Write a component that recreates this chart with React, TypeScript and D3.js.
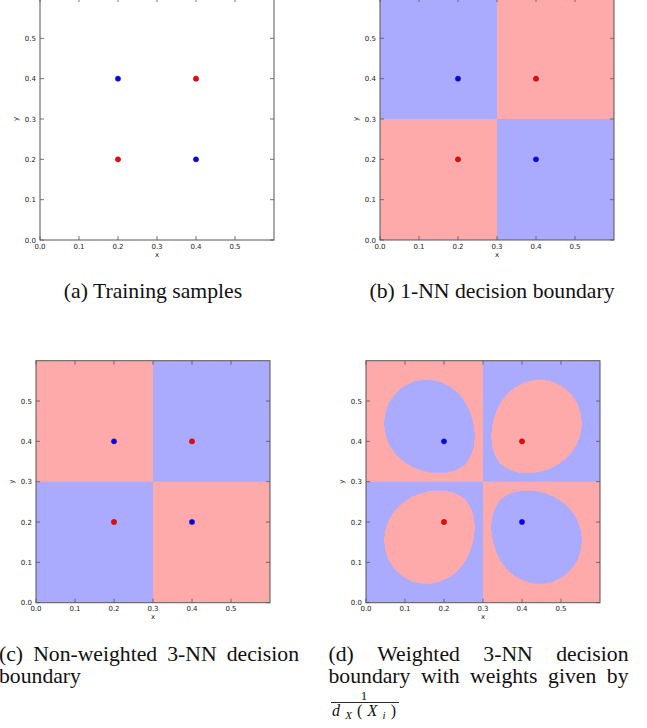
import React, { useEffect, useRef } from 'react';
import * as d3 from 'd3';

// training samples (class 1 = blue, class 0 = red)
const sampleX = [0.2, 0.4, 0.2, 0.4];
const sampleY = [0.4, 0.4, 0.2, 0.2];
const sampleClass = [1, 0, 0, 1];

const tickValues = [0, 0.1, 0.2, 0.3, 0.4, 0.5];
const domainMax = 0.6;

const captionA = '(a) Training samples';
const captionB = '(b) 1-NN decision boundary';
const captionC = [['(c)', 'Non-weighted', '3-NN', 'decision'], ['boundary']];
const captionD = [['(d)', 'Weighted', '3-NN', 'decision'], ['boundary', 'with', 'weights', 'given', 'by']];

const RED_BG = '#ffaaaa';
const BLUE_BG = '#aaaaff';
const RED_PT = '#ff0000';
const BLUE_PT = '#0000ff';

// k = 0 means no boundary (training samples only)
const panels = [
  { id: 'a', left: 40, top: -2, k: 0, weighted: false },
  { id: 'b', left: 380, top: -2, k: 1, weighted: false },
  { id: 'c', left: 36, top: 360.7, k: 3, weighted: false },
  { id: 'd', left: 366, top: 360.7, k: 3, weighted: true },
];

const classify = (px: number, py: number, k: number, weighted: boolean) => {
  const nb = sampleX
    .map((sx, i) => ({ d: Math.hypot(px - sx, py - sampleY[i]), c: sampleClass[i] }))
    .sort((a, b) => a.d - b.d)
    .slice(0, k);
  let blue = 0;
  let red = 0;
  nb.forEach(n => {
    const w = weighted ? 1 / Math.max(n.d, 1e-9) : 1;
    if (n.c === 1) blue += w;
    else red += w;
  });
  return blue > red ? 1 : 0;
};

export default function App() {
  const svgRef = useRef<SVGSVGElement>(null);

  useEffect(() => {
    const svg = d3.select(svgRef.current);
    svg.selectAll('*').remove();

    const W = 234;
    const H = 242;
    const tickFmt = d3.format('.1f');

    panels.forEach(p => {
      const x = d3.scaleLinear().domain([0, domainMax]).range([p.left, p.left + W]);
      const y = d3.scaleLinear().domain([0, domainMax]).range([p.top + H, p.top]);
      const g = svg.append('g');

      g.append('clipPath').attr('id', 'clip-' + p.id)
        .append('rect').attr('x', p.left).attr('y', p.top).attr('width', W).attr('height', H);

      if (p.k > 0) {
        const field = g.append('g').attr('clip-path', `url(#clip-${p.id})`);
        field.append('rect')
          .attr('x', p.left).attr('y', p.top).attr('width', W).attr('height', H)
          .attr('fill', RED_BG);

        // classify each pixel centre of the plot area
        const values: number[] = new Array(W * H);
        for (let j = 0; j < H; j++) {
          for (let i = 0; i < W; i++) {
            values[j * W + i] = classify(x.invert(p.left + i + 0.5), y.invert(p.top + j + 0.5), p.k, p.weighted);
          }
        }
        const blueArea = d3.contours().size([W, H]).thresholds([0.5])(values)[0];
        field.append('path')
          .attr('transform', `translate(${p.left},${p.top})`)
          .attr('d', d3.geoPath()(blueArea as any))
          .attr('fill', BLUE_BG);
      }

      // samples
      g.selectAll('circle.pt')
        .data(sampleX.map((sx, i) => ({ x: sx, y: sampleY[i], c: sampleClass[i] })))
        .enter()
        .append('circle')
        .attr('cx', d => x(d.x))
        .attr('cy', d => y(d.y))
        .attr('r', 2.7)
        .attr('fill', d => (d.c === 1 ? BLUE_PT : RED_PT))
        .attr('stroke', '#333')
        .attr('stroke-width', 0.4);

      // frame
      g.append('rect')
        .attr('x', p.left).attr('y', p.top).attr('width', W).attr('height', H)
        .attr('fill', 'none').attr('stroke', '#555').attr('stroke-width', 1);

      // inward ticks on all four sides
      const tl = 4;
      const ticks = g.append('g').attr('stroke', '#555').attr('stroke-width', 0.8);
      tickValues.forEach(t => {
        ticks.append('line').attr('x1', x(t)).attr('x2', x(t)).attr('y1', p.top + H).attr('y2', p.top + H - tl);
        ticks.append('line').attr('x1', x(t)).attr('x2', x(t)).attr('y1', p.top).attr('y2', p.top + tl);
        ticks.append('line').attr('y1', y(t)).attr('y2', y(t)).attr('x1', p.left).attr('x2', p.left + tl);
        ticks.append('line').attr('y1', y(t)).attr('y2', y(t)).attr('x1', p.left + W).attr('x2', p.left + W - tl);
      });

      const lab = g.append('g')
        .attr('font-family', '"DejaVu Sans", sans-serif')
        .attr('font-size', 7)
        .attr('fill', '#222');

      lab.selectAll('text.xt')
        .data(tickValues)
        .enter()
        .append('text')
        .attr('x', d => x(d))
        .attr('y', p.top + H + 8.6)
        .attr('text-anchor', 'middle')
        .text(d => tickFmt(d));

      lab.selectAll('text.yt')
        .data(tickValues)
        .enter()
        .append('text')
        .attr('x', p.left - 4)
        .attr('y', d => y(d) + 2.5)
        .attr('text-anchor', 'end')
        .text(d => tickFmt(d));

      lab.append('text')
        .attr('x', p.left + W / 2)
        .attr('y', p.top + H + 16.5)
        .attr('text-anchor', 'middle')
        .text('x');

      lab.append('text')
        .attr('transform', `translate(${p.left - 22.5},${p.top + H / 2}) rotate(-90)`)
        .attr('text-anchor', 'middle')
        .text('y');
    });

    // captions
    const cap = svg.append('g')
      .attr('font-family', '"Liberation Serif", "Times New Roman", serif')
      .attr('font-size', 21.7)
      .attr('fill', '#111');

    cap.append('text').attr('x', 153).attr('y', 297.5).attr('text-anchor', 'middle').text(captionA);
    cap.append('text').attr('x', 492).attr('y', 297.5).attr('text-anchor', 'middle').text(captionB);

    const justified = (lines: string[][], x0: number, width: number, base: number, lineH: number, lastJustified: boolean) => {
      lines.forEach((words, li) => {
        const nodes = words.map(w => cap.append('text').attr('y', base + li * lineH).text(w));
        const widths = nodes.map(n => (n.node() as SVGTextElement).getComputedTextLength());
        const total = d3.sum(widths);
        const isLast = li === lines.length - 1;
        const gap = (!isLast || lastJustified) && words.length > 1 ? (width - total) / (words.length - 1) : 5.4;
        let cx = x0;
        nodes.forEach((n, i) => {
          n.attr('x', cx);
          cx += widths[i] + gap;
        });
      });
    };

    justified(captionC, -1, 300, 660.5, 22.6, false);
    justified(captionD, 328.5, 300, 660.5, 22.6, true);

    // fraction 1 / d_X(X_i)
    const frac = svg.append('g')
      .attr('font-family', '"Liberation Serif", "Times New Roman", serif')
      .attr('fill', '#111');
    frac.append('text').attr('x', 364).attr('y', 700).attr('text-anchor', 'middle').attr('font-size', 13).text('1');
    frac.append('line').attr('x1', 331).attr('x2', 399).attr('y1', 702.5).attr('y2', 702.5)
      .attr('stroke', '#111').attr('stroke-width', 0.9);
    const den = frac.append('text').attr('x', 332).attr('y', 716).attr('font-size', 16)
      .attr('font-style', 'italic').attr('textLength', 64).attr('lengthAdjust', 'spacing');
    den.append('tspan').text('d');
    den.append('tspan').attr('font-size', 11).attr('dy', 2.5).text('X');
    den.append('tspan').attr('font-style', 'normal').attr('dy', -2.5).text('(');
    den.append('tspan').text('X');
    den.append('tspan').attr('font-size', 11).attr('dy', 2.5).text('i');
    den.append('tspan').attr('font-style', 'normal').attr('dy', -2.5).text(')');
  }, []);

  return (
    <svg
      ref={svgRef}
      width={647}
      height={728}
      style={{ position: 'absolute', left: 0, top: 0, background: '#fff' }}
    />
  );
}
